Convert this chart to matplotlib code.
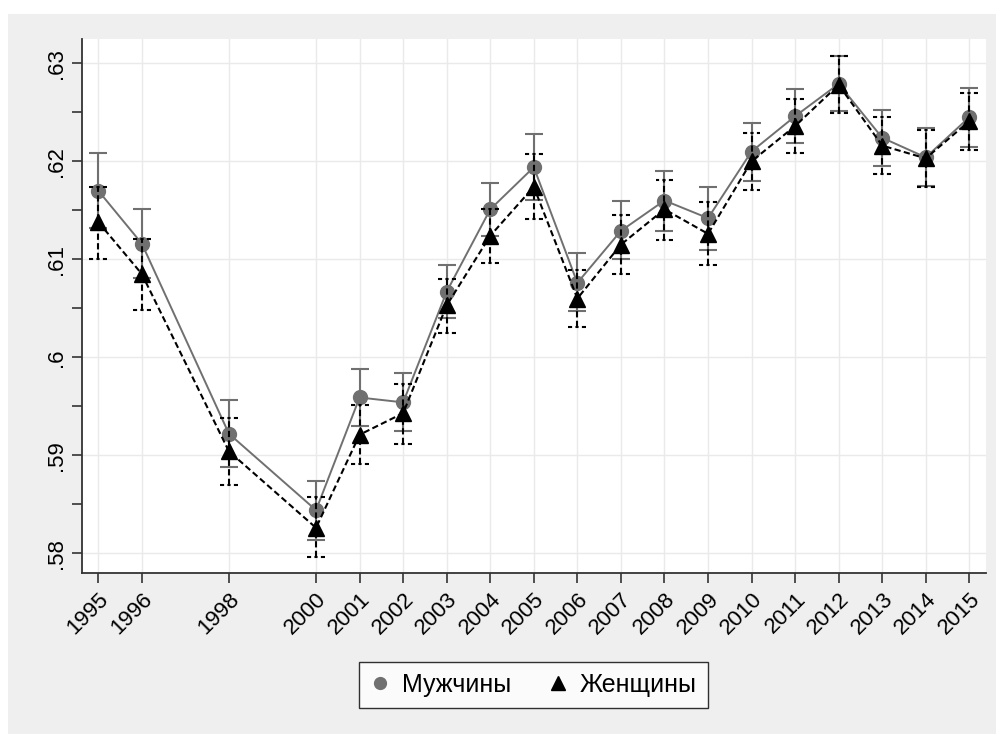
import numpy as np
import matplotlib
matplotlib.use('Agg')
import matplotlib.pyplot as plt
from matplotlib.lines import Line2D
from matplotlib.patches import Rectangle

plt.rcParams['font.family'] = ['Liberation Sans', 'DejaVu Sans']

years = [1995, 1996, 1998, 2000, 2001, 2002, 2003, 2004, 2005, 2006, 2007,
         2008, 2009, 2010, 2011, 2012, 2013, 2014, 2015]

# Mužčiny: point estimate and CI bounds
men = [0.6170, 0.6116, 0.5922, 0.5844, 0.5959, 0.5954, 0.6067, 0.6151, 0.6194, 0.6076,
       0.6129, 0.6160, 0.6142, 0.6210, 0.6246, 0.6279, 0.6224, 0.6204, 0.6245]
men_hi = [0.6208, 0.6151, 0.5956, 0.5874, 0.5988, 0.5984, 0.6094, 0.6178, 0.6228, 0.6106,
          0.6159, 0.6190, 0.6174, 0.6239, 0.6274, 0.6307, 0.6252, 0.6234, 0.6275]
men_lo = [0.6132, 0.6081, 0.5888, 0.5814, 0.5930, 0.5925, 0.6040, 0.6124, 0.6161, 0.6047,
          0.6100, 0.6129, 0.6110, 0.6180, 0.6219, 0.6251, 0.6195, 0.6175, 0.6215]

# Ženščiny
women = [0.6138, 0.6085, 0.5904, 0.5826, 0.5921, 0.5943, 0.6053, 0.6124, 0.6174, 0.6060,
         0.6115, 0.6151, 0.6126, 0.6200, 0.6236, 0.6278, 0.6216, 0.6203, 0.6241]
women_hi = [0.6174, 0.6121, 0.5938, 0.5857, 0.5951, 0.5973, 0.6080, 0.6151, 0.6207, 0.6089,
            0.6145, 0.6181, 0.6158, 0.6229, 0.6264, 0.6307, 0.6245, 0.6232, 0.6270]
women_lo = [0.6100, 0.6048, 0.5870, 0.5796, 0.5891, 0.5912, 0.6025, 0.6096, 0.6141, 0.6031,
            0.6085, 0.6120, 0.6094, 0.6171, 0.6208, 0.6249, 0.6187, 0.6174, 0.6212]

ytick_vals = [0.58, 0.59, 0.60, 0.61, 0.62, 0.63]
ytick_labels = ['.58', '.59', '.6', '.61', '.62', '.63']
labels = ['Мужчины', 'Женщины']

years = np.array(years)
men, men_lo, men_hi = np.array(men), np.array(men_lo), np.array(men_hi)
women, women_lo, women_hi = np.array(women), np.array(women_lo), np.array(women_hi)

gray = '#707070'
fig = plt.figure(figsize=(9.96, 7.34), dpi=100, facecolor='white')
fig.patches.append(Rectangle((8 / 996, 0), 1, 720 / 734, transform=fig.transFigure,
                             facecolor='#efefef', edgecolor='none', zorder=-5))
ax = fig.add_axes([82 / 996, 1 - 573 / 734, (986 - 82) / 996, (573 - 39) / 734])
ax.set_facecolor('white')

# men: solid gray with capped CI
ax.errorbar(years, men, yerr=[men - men_lo, men_hi - men], fmt='none', ecolor=gray,
            elinewidth=1.5, capsize=6.5, capthick=1.5, zorder=3)
ax.plot(years, men, color=gray, lw=1.4, marker='o', ms=10, mfc=gray, mec=gray, zorder=4)

# women: black dashed with dashed caps
lw_w = 1.5
dash = (0, (3, 1.6))
cap_dash = (2.25, (3, 1.6))
ax.vlines(years, women_lo, women_hi, colors='black', linestyles=[dash], lw=lw_w, zorder=5)
cap = 0.205
for yv in [women_lo, women_hi]:
    ax.hlines(yv, years, years - cap, colors='black', linestyles=[cap_dash], lw=lw_w, zorder=5)
    ax.hlines(yv, years, years + cap, colors='black', linestyles=[cap_dash], lw=lw_w, zorder=5)
ax.plot(years, women, color='black', lw=lw_w, ls=dash, marker='^', ms=11.5,
        mfc='black', mec='black', zorder=6)

ax.set_xlim(1994.626, 2015.383)
ax.set_ylim(0.57799, 0.63248)
ax.set_xticks(years)
ax.set_xticklabels([str(y) for y in years], rotation=45, ha='right', rotation_mode='anchor',
                   fontsize=16)
ax.set_yticks(ytick_vals)
ax.set_yticklabels(ytick_labels, rotation=90, va='center', fontsize=16)
ax.set_yticks(np.arange(0.585, 0.63, 0.01), minor=True)
ax.tick_params(axis='both', which='both', length=7, width=1.2, color='#333333', pad=4)
ax.grid(True, which='major', color='#eaeaea', lw=1.0, zorder=0)
ax.set_axisbelow(True)
for s in ['top', 'right']:
    ax.spines[s].set_visible(False)
for s in ['left', 'bottom']:
    ax.spines[s].set_color('#333333')
    ax.spines[s].set_linewidth(1.3)

handles = [Line2D([], [], ls='none', marker='o', ms=8.5, color=gray),
           Line2D([], [], ls='none', marker='^', ms=10, color='black')]
leg = fig.legend(handles, labels, loc='center', bbox_to_anchor=(533.5 / 996, 1 - 685 / 734),
                 ncol=2, fontsize=18, frameon=True, fancybox=False, edgecolor='black',
                 handlelength=0.8, handletextpad=0.45, columnspacing=1.5, borderpad=0.45,
                 borderaxespad=0)
leg.get_frame().set_linewidth(1.0)

fig.savefig('out.png', dpi=100, facecolor=fig.get_facecolor())
